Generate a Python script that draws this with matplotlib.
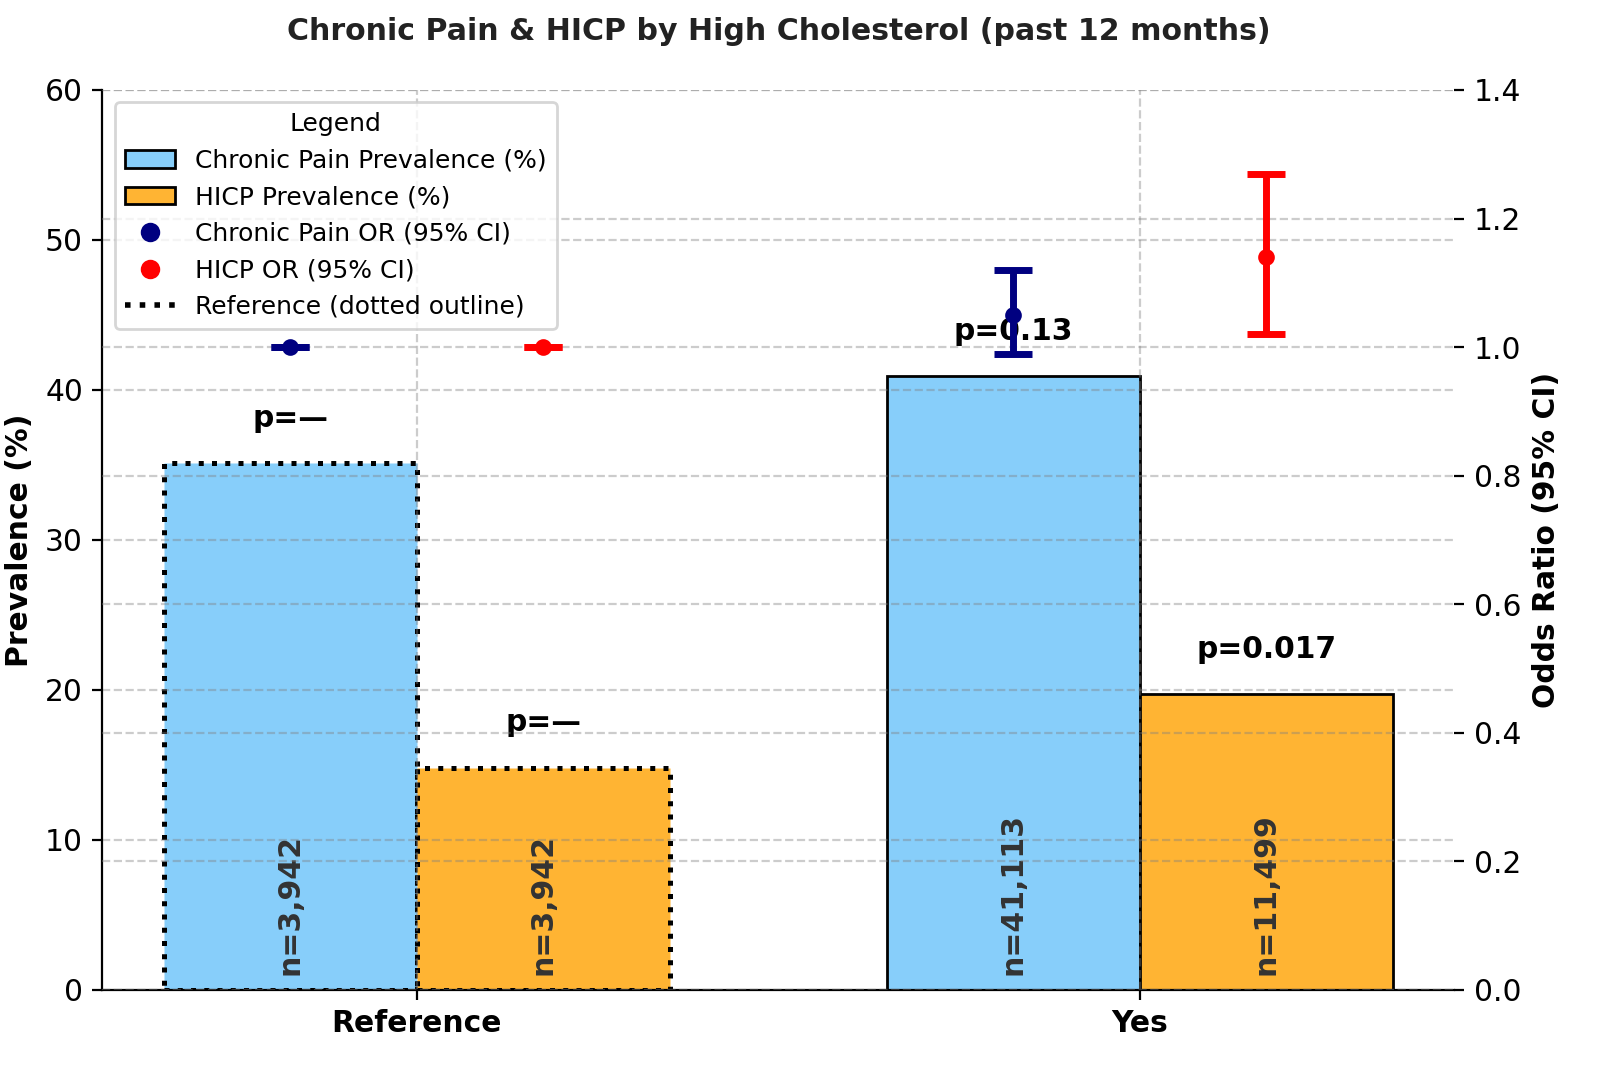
import matplotlib
matplotlib.use("Agg")
import matplotlib.pyplot as plt
import numpy as np
from matplotlib.patches import Patch
from matplotlib.lines import Line2D

groups = ["Reference", "Yes"]
pain_prev = [35.1, 40.9]
hicp_prev = [14.8, 19.7]
pain_n = ["n=3,942", "n=41,113"]
hicp_n = ["n=3,942", "n=11,499"]
pain_p = ["p=—", "p=0.13"]
hicp_p = ["p=—", "p=0.017"]
pain_or = [1.0, 1.05]
pain_lo = [1.0, 0.99]
pain_hi = [1.0, 1.12]
hicp_or = [1.0, 1.14]
hicp_lo = [1.0, 1.02]
hicp_hi = [1.0, 1.27]

c_pain = "#87CEFA"
c_hicp = "#FFB433"

x = np.arange(len(groups))
w = 0.35

fig, ax1 = plt.subplots(figsize=(8, 5.33), dpi=200)
ax2 = ax1.twinx()

for i in range(len(groups)):
    ref = (i == 0)
    ls = ":" if ref else "-"
    lw = 1.8 if ref else 1.0
    ax1.bar(x[i] - w/2, pain_prev[i], w, color=c_pain, edgecolor="black", linestyle=ls, linewidth=lw)
    ax1.bar(x[i] + w/2, hicp_prev[i], w, color=c_hicp, edgecolor="black", linestyle=ls, linewidth=lw)
    ax1.text(x[i] - w/2, 1, pain_n[i], rotation=90, ha="center", va="bottom",
             fontsize=10.8, fontweight="bold", color="#333333")
    ax1.text(x[i] + w/2, 1, hicp_n[i], rotation=90, ha="center", va="bottom",
             fontsize=10.8, fontweight="bold", color="#333333")
    ax1.text(x[i] - w/2, pain_prev[i] + 3, pain_p[i], ha="center", va="center",
             fontsize=10.7, fontweight="bold")
    ax1.text(x[i] + w/2, hicp_prev[i] + 3, hicp_p[i], ha="center", va="center",
             fontsize=10.7, fontweight="bold")

pain_err = [np.array(pain_or) - np.array(pain_lo), np.array(pain_hi) - np.array(pain_or)]
hicp_err = [np.array(hicp_or) - np.array(hicp_lo), np.array(hicp_hi) - np.array(hicp_or)]
ax2.errorbar(x - w/2, pain_or, yerr=pain_err, fmt="o", color="navy", ecolor="navy",
             elinewidth=2.5, capsize=7, capthick=2.5, markersize=5)
ax2.errorbar(x + w/2, hicp_or, yerr=hicp_err, fmt="o", color="red", ecolor="red",
             elinewidth=2.5, capsize=7, capthick=2.5, markersize=5)

ax1.set_ylim(0, 60)
ax2.set_ylim(0, 1.4)
ax1.set_xticks(x)
ax1.set_xticklabels(groups, fontweight="bold", fontsize=10.7)
ax1.set_ylabel("Prevalence (%)", fontweight="bold", fontsize=10.7)
ax2.set_ylabel("Odds Ratio (95% CI)", fontweight="bold", fontsize=10.7)
ax1.tick_params(axis="y", labelsize=10.7)
ax2.tick_params(axis="y", labelsize=10.7)

ax1.grid(True, linestyle="--", color="gray", alpha=0.4)
ax2.grid(True, axis="y", linestyle="--", color="gray", alpha=0.4)

for s in ["top", "right"]:
    ax1.spines[s].set_visible(False)
for s in ["top", "right", "left", "bottom"]:
    ax2.spines[s].set_visible(False)

ax1.set_title("Chronic Pain & HICP by High Cholesterol (past 12 months)",
              fontweight="bold", fontsize=10.8, color="#222222", pad=18)

handles = [
    Patch(facecolor=c_pain, edgecolor="black", label="Chronic Pain Prevalence (%)"),
    Patch(facecolor=c_hicp, edgecolor="black", label="HICP Prevalence (%)"),
    Line2D([], [], marker="o", color="navy", linestyle="none", label="Chronic Pain OR (95% CI)"),
    Line2D([], [], marker="o", color="red", linestyle="none", label="HICP OR (95% CI)"),
    Line2D([], [], color="black", linestyle=":", linewidth=2, label="Reference (dotted outline)"),
]
ax2.legend(handles=handles, title="Legend", loc="upper left", fontsize=9, title_fontsize=9)

fig.subplots_adjust(left=0.064, right=0.909, top=0.9156, bottom=0.0713)
fig.savefig("out.png")
